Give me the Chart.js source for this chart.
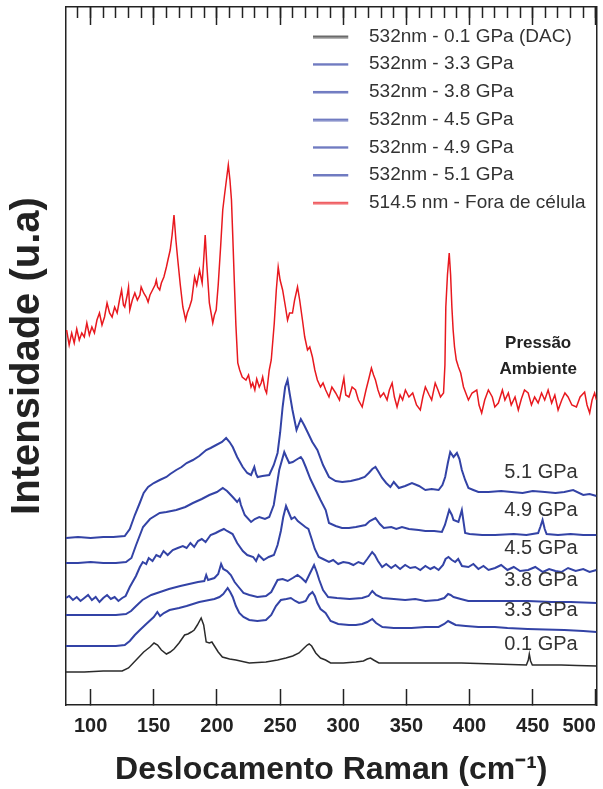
<!DOCTYPE html>
<html>
<head>
<meta charset="utf-8">
<script src="https://cdn.jsdelivr.net/npm/chart.js@4.4.1/dist/chart.umd.min.js"></script>
<style>
  html, body { margin: 0; padding: 0; background: #fff; }
  #wrap { width: 603px; height: 789px; position: relative; }
</style>
</head>
<body>
<div id="wrap"><canvas id="raman"></canvas></div>
<script>
// axis ticks (cm-1)
const xTicks = [100, 150, 200, 250, 300, 350, 400, 450, 500]
const xMinorTicks = [90, 100, 110, 120, 130, 140, 150, 160, 170, 180, 190, 200, 210, 220, 230, 240, 250, 260, 270, 280, 290, 300,
    310, 320, 330, 340, 350, 360, 370, 380, 390, 400, 410, 420, 430, 440, 450, 460, 470, 480, 490, 500]

const seriesNames = ['532nm - 0.1 GPa (DAC)', '532nm - 3.3 GPa', '532nm - 3.8 GPa', '532nm - 4.5 GPa',
    '532nm - 4.9 GPa', '532nm - 5.1 GPa', '514.5 nm - Fora de célula']

// spectra as [raman shift, intensity (offset, a.u.)]
const gpa01 = [[80.5,33],[95,33],[110,34],[125,34],[130,37],[136,45],[142,53],[147,58],[150.2,62],[153,60],[156,55],[160,51],[163,53],
    [166,56],[170,62],[174.4,70],[177,71],[179.7,73],[182,75],[184.5,80],[187.5,87],[189.5,80],[191.5,63],[194,62],[196,63],[198,59],
    [201,53],[204.3,48],[210,46],[215,45],[225.6,42],[238.8,43],[248,45],[254.6,47],[260,49],[265,52],[269,57],[271.5,60],[273,61],
    [275,59],[278.2,52],[282,47],[286,45],[290,42],[300,42],[310,43],[316,44],[319,46],[321.6,47],[324,45],[328.2,42],[340,42],
    [354,42],[370,42],[393.6,42],[420,41],[445,40],[446.5,45],[447.3,51],[448.3,44],[449.7,40],[460,40],[472.6,40],[485,39.5],[500.5,39]]

const gpa33 = [[80.5,59],[95,59],[110,59],[120,59],[127,60],[131,64],[135,70],[139,75],[144,81],[150,88],[152.8,93],[155,89],[158,92],
    [162.5,95],[170,97],[176,99],[181,101],[186,103],[190,104],[194,105],[198,106],[202,108],[205,111],[208.5,117],[210.5,113],
    [212.5,108],[215,99],[217.7,92],[221,88],[225.6,85],[232,84],[238.8,85],[243,90],[246.7,99],[250.6,105],[255,106],[258.5,107],
    [262,104],[265,102],[268,103],[270.3,104],[273,110],[275.6,113],[277.5,109],[279.5,102],[282,96],[286,92],[290,84],[296,81],
    [304.5,80],[310,80],[315,81],[319,83],[323,86],[326,82],[331,78],[340,77],[354,77],[365,78],[375.5,78],[380,81],[383,84],
    [386,82],[389,80],[397,79],[407,78],[420,78],[430,77],[446,76],[460,75.5],[475,75],[490,74],[500.5,73]]

const gpa38 = [[80.5,90],[90,90],[100,90],[110,90],[120,90],[128,91],[132,94],[136,99],[141,105],[148,110],[155,113],[162,116],
    [171,119],[178,121],[185,123],[190,124],[191.5,130],[193,125],[198,127],[201,131],[203.3,141],[205,136],[208,134],[211,130],
    [214,123],[217.8,117],[221,112],[225.7,110],[232,108],[238.8,109],[243,113],[248,125],[252,126],[256,124],[260,127],[263.8,130],
    [267,127],[270.3,123],[273,130],[276.9,140],[279,133],[281,125],[284,115],[288,108],[295,107],[305,106],[315,107],[320,109],
    [323,114],[326,110],[331,107],[340,106],[349,105],[357,106],[365,104],[375,105],[380,107],[383,111],[385,110],[387.3,108],
    [393,106],[399,104],[410,104],[425,104],[446,104],[465,103],[480,103],[500.5,102]]

const gpa45 = [[80.5,107],[83,109],[86,105],[89,108],[92,104],[95,107],[98,110],[101,105],[104,108],[107,103],[110,107],[113,110],
    [116,106],[119,108],[122,104],[125,107],[127.7,109],[131,118],[135.9,129],[139,138],[141.3,143],[144,141],[146,147],[149,144],
    [152,150],[155,148],[157.7,154],[161,150],[165,155],[169,157],[173,159],[176,157],[179,162],[182,158],[185,164],[188,166],
    [191,163],[195,170],[199,172],[202,174],[205.5,176],[208,174],[212.4,171],[216,162],[220.5,154],[224,150],[228.7,148],[231,144],
    [233,150],[237,145],[241,148],[245.1,150],[248,160],[250.6,174],[252.5,188],[254.7,199],[257,192],[259,186],[261.5,188],[264,184],
    [267,181],[270,178],[272.4,176],[275,166],[277.5,156],[280.6,148],[284,146],[288.7,143],[292,145],[296,141],[300,143],[304.5,142],
    [308,140],[312,143],[316,141],[319,146],[322.9,153],[325,150],[327.5,144],[330.8,138],[334,141],[338,137],[341.3,140],[345,136],
    [349,140],[353,137],[357,138],[361,135],[365,139],[369,136],[372,138],[375.5,135],[379,140],[381,146],[383.3,148],[386,145],
    [388.6,143],[391,146],[394,139],[399.1,138],[403,141],[407,136],[411,139],[415,135],[420.2,137],[425,140],[430,135],[435,138],
    [440,134],[446.4,135],[452,138],[458,133],[463,136],[468,134],[472.7,133],[478,137],[484,134],[490,136],[495,133],[500.5,135]]

const gpa49 = [[80.5,142],[90,142],[100,143],[110,142],[120,142],[128,143],[132.3,147],[136,160],[141.5,178],[147,186],[154.7,192],
    [160,193],[167.8,195],[175,198],[181,202],[188,206],[194,210],[200,213],[204.6,217],[208,214],[212.5,208],[216,203],[217.8,206],
    [219,200],[222,190],[227,183],[230,186],[233.5,188],[238,186],[241.4,188],[245,200],[249.3,235],[253.3,253],[255,248],[257.2,242],
    [260,243],[262.5,245],[266.4,248],[268,245],[270.3,238],[274,226],[278.2,215],[282,205],[286.1,195],[288.7,182],[294,179],
    [299,177],[304.5,177],[310,178],[317.6,180],[321,184],[325.5,187],[329,181],[332.1,177],[338,178],[342,176],[346.5,178],[352,176],
    [359.7,175],[365,174],[372,174],[378.1,173],[380.5,180],[383.9,195],[386,190],[387.3,185],[391.2,183],[393.9,195],[396.5,172],
    [400,171],[410,170],[420.2,170],[435,171],[445,170],[454.3,172],[456,178],[457.8,185],[459.5,176],[461,171],[470,170],[480,171],
    [490,170],[500.5,170]]

const gpa51 = [[80.5,167],[90,168],[100,167],[110,168],[118,168],[127,169],[131,176],[135,190],[138.9,202],[142,212],[145.5,218],
    [150,222],[154.7,225],[160,228],[163,231],[167.8,235],[172,238],[176,242],[181,245],[186,249],[191.5,255],[195,257],[199.4,260],
    [204,263],[207.3,267],[210,263],[212.5,258],[216,248],[220.4,238],[224,232],[227,230],[229.6,238],[231,231],[232.2,228],[236,229],
    [241.4,230],[245,240],[248,252],[250,272],[252,298],[254,318],[255.9,325],[257.5,312],[259.8,295],[263,275],[266.4,286],[269,280],
    [271.7,273],[275.5,263],[279.5,255],[284,240],[288.7,228],[294,224],[299.2,223],[306,224],[312.4,226],[317,228],[320.2,232],
    [323,236],[325.5,238],[328,233],[330.8,227],[334,222],[337.3,218],[340,223],[344,217],[349,219],[354.4,222],[360,219],[365,215],
    [370,216],[375.5,215],[378.5,220],[380.7,228],[382.8,242],[384.7,253],[387.3,248],[390,252],[392,246],[393.9,235],[396.5,225],
    [399.1,217],[403,215],[407,213],[415,213],[425,214],[433.3,213],[442,212],[450,214],[459.6,213],[468,212],[475,213],[482,215],
    [490,210],[495,211],[500.5,209]]

const ambient = [[81,375],[83,360],[85,372],[87,362],[89,376],[91,365],[93,372],[95,368],[97,382],[99,370],[101,378],[103,372],
    [105,385],[107,392],[109,380],[111,388],[113,402],[115,392],[117,388],[119,398],[121,392],[123,406],[124.5,415],[126,400],
    [127,398],[129,410],[130,418],[131,395],[133,405],[135,412],[137,405],[139,410],[140,418],[142,412],[144,408],[145.5,403],
    [147,410],[149,415],[151,420],[152,425],[153,418],[154.7,415],[156,422],[158,428],[160,438],[161.2,445],[163,455],[164.5,470],
    [166,490],[167.5,465],[169,445],[171,420],[173,398],[175.2,385],[176.5,392],[178.3,398],[180,405],[182.3,428],[184,420],
    [186.2,435],[188.3,422],[189.5,445],[190.7,470],[192,440],[194,402],[196.7,382],[198,390],[199.4,395],[201,420],[203,460],
    [204.6,495],[206,510],[207.2,522],[209,540],[210.3,525],[211.5,505],[212.5,470],[213.8,422],[215,380],[216.5,342],[218,335],
    [220,328],[223,325],[225,330],[227,318],[228.3,322],[230,315],[231.5,326],[233.5,318],[235,322],[236.2,328],[238,316],
    [239.3,312],[240.5,325],[241.4,335],[243,345],[245.4,382],[247,415],[248.5,438],[250,425],[252,415],[254,400],[255.9,385],
    [257.5,392],[259.8,392],[261.5,405],[263.8,418],[265.5,405],[267.7,385],[269.5,368],[271.7,355],[273.5,358],[275.6,348],
    [277.5,335],[279.5,325],[282,318],[284,322],[286.1,315],[288.7,308],[291,318],[294,312],[297,305],[300.5,327],[302,310],
    [304.5,308],[307,318],[309.7,315],[312,305],[315,298],[318,315],[320,325],[322.3,337],[324,330],[325.5,325],[327.5,315],
    [329.4,308],[332,312],[334.7,305],[336.5,315],[338.7,322],[340.5,308],[342.6,298],[345,310],[347,305],[349.2,315],[352,308],
    [355,312],[358,300],[361,295],[363,308],[365,318],[368,310],[370,305],[372.8,322],[375,315],[377,308],[379.4,312],[380.5,340],
    [381.2,398],[382.5,430],[383.9,452],[385,430],[386,398],[387,375],[388.1,358],[389.5,345],[391.2,338],[393,332],[395.2,318],
    [397,312],[399.1,305],[402,312],[405.7,315],[407.5,300],[409.6,292],[412,305],[414.9,315],[418,308],[420,298],[422.8,302],
    [426,315],[428,305],[430.7,312],[433,300],[436,308],[438.6,295],[441,306],[443.5,315],[446.4,312],[449,300],[451.5,308],
    [454.3,302],[457,312],[459.5,305],[462.2,315],[465,302],[467.5,310],[470.1,295],[473,305],[475.5,312],[478,308],[481,300],
    [484.6,298],[487.5,308],[491.1,313],[493,300],[495.1,292],[497,305],[499,312],[500.5,305]]

// text placed on the plot (data units)
const stateLabels = ['5.1 GPa', '4.9 GPa', '4.5 GPa', '3.8 GPa', '3.3 GPa', '0.1 GPa']
const stateLabelY = [233, 195, 157, 125, 95, 61]
const ambientText = ['Pressão', 'Ambiente']
const ambientTextY = [362, 336]

const colors = ['#2b2b2b', '#3343a6', '#3343a6', '#3343a6', '#3343a6', '#3343a6', '#e8191f']
const spectra = [gpa01, gpa33, gpa38, gpa45, gpa49, gpa51, ambient]

Chart.defaults.font.family = '"Liberation Sans", Arial, Helvetica, sans-serif'
Chart.defaults.color = '#222'

function lineSample(color) {
    var c = document.createElement('canvas')
    c.width = 46
    c.height = 4
    var g = c.getContext('2d')
    g.globalAlpha = 0.7
    g.fillStyle = color
    g.fillRect(0, 1, 35, 2.5)
    return c
}

// move the legend box to the upper right of the plot area
const placeLegend = {
    id: 'placeLegend',
    afterLayout(chart) {
        var area = chart.chartArea
        chart.legend.left = area.left + 238.3
        chart.legend.top = area.top + 11.3
        chart.legend.right = area.right + 20
    }
}

const plotText = {
    id: 'plotText',
    afterDatasetsDraw(chart) {
        var ctx = chart.ctx
        var x = chart.scales.x
        var y = chart.scales.y
        ctx.save()
        ctx.fillStyle = '#333'
        ctx.textBaseline = 'middle'
        ctx.textAlign = 'left'
        ctx.font = '20px "Liberation Sans", Arial, sans-serif'
        stateLabels.forEach((t, i) => ctx.fillText(t, x.getPixelForValue(427.5), y.getPixelForValue(stateLabelY[i])))
        ctx.textAlign = 'center'
        ctx.fillStyle = '#222'
        ctx.font = 'bold 17px "Liberation Sans Narrow", "Liberation Sans", Arial, sans-serif'
        ambientText.forEach((t, i) => ctx.fillText(t, x.getPixelForValue(454.3), y.getPixelForValue(ambientTextY[i])))
        ctx.restore()
    }
}

const ramanChart = new Chart(document.getElementById('raman'), {
    type: 'line',
    data: {
        datasets: spectra.map((s, i) => ({
            label: seriesNames[i],
            data: s.map(p => ({ x: p[0], y: p[1] })),
            borderColor: colors[i],
            backgroundColor: colors[i],
            borderWidth: i == 0 || i == 6 ? 1.5 : 2,
            pointRadius: 0,
            tension: 0,
            xAxisID: 'x',
            yAxisID: 'y'
        }))
    },
    options: {
        responsive: true,
        maintainAspectRatio: false,
        animation: false,
        layout: { padding: { top: 7, right: 6.5, left: 0, bottom: 0 } },
        plugins: {
            tooltip: { enabled: false },
            legend: {
                position: 'chartArea',
                align: 'start',
                labels: {
                    usePointStyle: true,
                    pointStyleWidth: 46.5,
                    padding: 8.7,
                    color: '#333',
                    font: { size: 19 },
                    generateLabels: (chart) => Chart.defaults.plugins.legend.labels.generateLabels(chart).map(item => {
                        item.pointStyle = lineSample(colors[item.datasetIndex])
                        item.fontColor = '#333'
                        return item
                    })
                }
            }
        },
        scales: {
            x: {
                type: 'linear',
                position: 'bottom',
                min: 80.5,
                max: 500.5,
                afterBuildTicks: (axis) => { axis.ticks = [80.5].concat(xTicks).map(v => ({ value: v })) },
                afterFit: (axis) => {
                    axis.height = 84
                    axis.paddingLeft = 0
                    axis.paddingRight = 0
                },
                grid: {
                    drawOnChartArea: false,
                    tickLength: -16,
                    tickWidth: 1.5,
                    tickColor: (c) => (c.tick && c.tick.value < 100) ? 'rgba(0,0,0,0)' : '#222'
                },
                border: { display: true, color: '#222', width: 1.5 },
                ticks: {
                    align: 'inner',
                    autoSkip: false,
                    maxRotation: 0,
                    padding: 25,
                    color: '#222',
                    font: { size: 20, weight: 'bold' },
                    callback: (v) => v < 100 ? '' : v
                },
                title: {
                    display: true,
                    text: 'Deslocamento Raman (cm⁻¹)',
                    color: '#222',
                    font: { size: 32, weight: 'bold' },
                    padding: { top: 0, bottom: 0 }
                }
            },
            xTopMinor: {
                type: 'linear',
                position: 'top',
                min: 80.5,
                max: 500.5,
                afterBuildTicks: (axis) => { axis.ticks = xMinorTicks.map(v => ({ value: v })) },
                afterFit: (axis) => {
                    axis.height = 0
                    axis.paddingLeft = 0
                    axis.paddingRight = 0
                },
                grid: { drawOnChartArea: false, tickLength: -11, tickWidth: 1.5, tickColor: '#222' },
                border: { display: true, color: '#222', width: 1.5 },
                ticks: { display: false }
            },
            xTopMajor: {
                type: 'linear',
                position: 'top',
                min: 80.5,
                max: 500.5,
                afterBuildTicks: (axis) => { axis.ticks = xTicks.map(v => ({ value: v })) },
                afterFit: (axis) => {
                    axis.height = 0
                    axis.paddingLeft = 0
                    axis.paddingRight = 0
                },
                grid: { drawOnChartArea: false, tickLength: -18, tickWidth: 1.5, tickColor: '#222' },
                border: { display: false },
                ticks: { display: false }
            },
            y: {
                type: 'linear',
                position: 'left',
                min: 0,
                max: 698,
                afterFit: (axis) => { axis.width = 66 },
                grid: { drawOnChartArea: false, drawTicks: false },
                border: { display: true, color: '#222', width: 1.5 },
                ticks: { display: false },
                title: {
                    display: true,
                    text: 'Intensidade (u.a)',
                    color: '#222',
                    font: { size: 40, weight: 'bold' },
                    padding: { top: 4, bottom: 0 }
                }
            },
            yRight: {
                type: 'linear',
                position: 'right',
                min: 0,
                max: 698,
                afterFit: (axis) => { axis.width = 0 },
                grid: { drawOnChartArea: false, drawTicks: false },
                border: { display: true, color: '#222', width: 1.5 },
                ticks: { display: false }
            }
        }
    },
    plugins: [placeLegend, plotText]
})
</script>
</body>
</html>
